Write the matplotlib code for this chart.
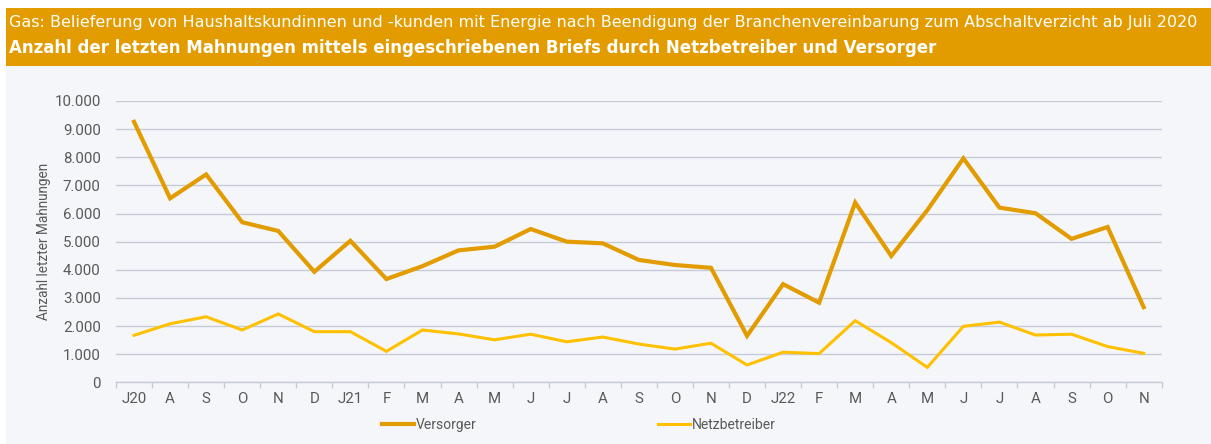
import matplotlib
matplotlib.use("Agg")
import matplotlib.pyplot as plt
from matplotlib.patches import Rectangle
import numpy as np

months = ["J20", "A", "S", "O", "N", "D", "J21", "F", "M", "A", "M", "J", "J", "A",
          "S", "O", "N", "D", "J22", "F", "M", "A", "M", "J", "J", "A", "S", "O", "N"]
versorger = [9260, 6540, 7390, 5690, 5380, 3930, 5030, 3670, 4130, 4690, 4820, 5450,
             5000, 4940, 4350, 4170, 4070, 1650, 3490, 2830, 6390, 4490, 6120, 7960,
             6210, 6010, 5100, 5520, 2670]
netzbetreiber = [1670, 2080, 2330, 1860, 2430, 1800, 1800, 1100, 1860, 1720, 1510, 1710,
                 1440, 1610, 1360, 1180, 1390, 615, 1070, 1020, 2190, 1410, 530, 1990,
                 2140, 1680, 1710, 1270, 1030]
yticks = list(range(0, 10001, 1000))
ytick_labels = [f"{v:,}".replace(",", ".") for v in yticks]

title1 = "Gas: Belieferung von Haushaltskundinnen und -kunden mit Energie nach Beendigung der Branchenvereinbarung zum Abschaltverzicht ab Juli 2020"
title2 = "Anzahl der letzten Mahnungen mittels eingeschriebenen Briefs durch Netzbetreiber und Versorger"

plt.rcParams['font.family'] = ['Roboto', 'DejaVu Sans']

W, H = 1211, 444
fig = plt.figure(figsize=(W / 100, H / 100), dpi=100, facecolor="white")

ORANGE = "#E39C00"
YELLOW = "#FFC000"
BG = "#F5F6FA"
GRID = "#C5CCD8"
TXT = "#595959"

# background panel and header
fig.patches.append(Rectangle((6 / W, 0), 1 - 6 / W, 1 - 66 / H, transform=fig.transFigure,
                             facecolor=BG, edgecolor="none", zorder=-10))
fig.patches.append(Rectangle((6 / W, 1 - 66 / H), 1 - 6 / W, 58 / H, transform=fig.transFigure,
                             facecolor=ORANGE, edgecolor="none", zorder=-10))
fig.text(9 / W, 1 - 22 / H, title1, color="white", fontsize=11.5, va="center", ha="left",
         family=["DejaVu Sans"])
fig.text(9 / W, 1 - 48 / H, title2, color="white", fontsize=12.0, fontweight="bold",
         va="center", ha="left", family=["DejaVu Sans"])

left, right = 116 / W, 1161.7 / W
bottom, top = 1 - 382.3 / H, 1 - 101 / H
ax = fig.add_axes([left, bottom, right - left, top - bottom])
ax.set_facecolor("none")
ax.set_zorder(1)

x = np.arange(len(months))
ax.plot(x, versorger, color=ORANGE, lw=3.0, label="Versorger", solid_joinstyle="miter", zorder=3)
ax.plot(x, netzbetreiber, color=YELLOW, lw=2.2, label="Netzbetreiber", solid_joinstyle="miter", zorder=3)

ax.set_xlim(-0.5, len(months) - 0.5)
ax.set_ylim(0, 10000)
ax.set_yticks(yticks)
ax.set_yticklabels(ytick_labels, fontsize=10.8, color=TXT)
ax.yaxis.grid(True, color=GRID, lw=1.0)
ax.set_axisbelow(True)
ax.tick_params(axis="y", length=0, pad=11)

ax.set_xticks(x)
ax.set_xticklabels(months, fontsize=10.8, color=TXT)
ax.tick_params(axis="x", which="major", length=0, pad=7)
ax.set_xticks(np.arange(-0.5, len(months) + 0.5, 1), minor=True)
ax.tick_params(axis="x", which="minor", length=4, color=GRID, width=1)

for s in ["top", "right", "left"]:
    ax.spines[s].set_visible(False)
ax.spines["bottom"].set_color(GRID)
ax.spines["bottom"].set_linewidth(1.0)

ax.set_ylabel("Anzahl letzter Mahnungen", fontsize=9.8, color=TXT)
ax.yaxis.set_label_coords((51 - 116) / 1045.7, 0.5)

fig.legend(loc="center", bbox_to_anchor=(0.478, 1 - 425 / H), ncol=2, frameon=False,
           fontsize=10, columnspacing=13.0, handlelength=2.3, handletextpad=0.15,
           labelcolor=TXT)

fig.savefig("out.png", dpi=100, facecolor="white")
